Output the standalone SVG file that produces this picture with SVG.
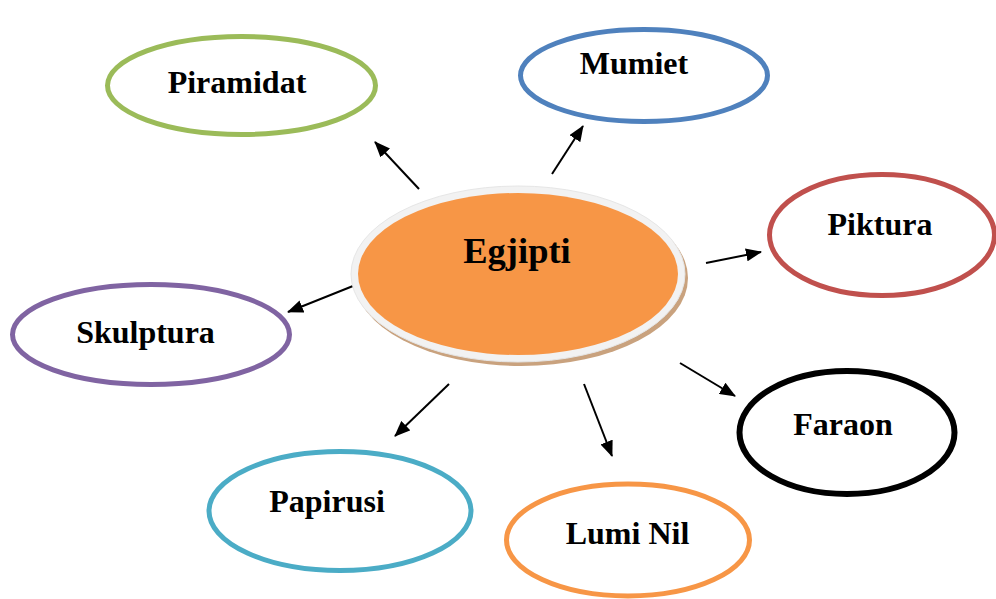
<svg xmlns="http://www.w3.org/2000/svg" width="996" height="599" viewBox="0 0 996 599">
<defs>
<style>
.node{fill:#ffffff;stroke-width:5}
.lbl{font-family:"Liberation Serif","Times New Roman",serif;font-weight:bold;font-size:32px;fill:#000;text-anchor:middle}
.conn{stroke:#000;stroke-width:2;fill:none;marker-end:url(#ah)}
</style>
<marker id="ah" markerUnits="userSpaceOnUse" markerWidth="16" markerHeight="13" refX="15" refY="6.5" orient="auto">
<path d="M0,0 L16,6.5 L0,13 Z" fill="#000"/>
</marker>
</defs>
<rect width="996" height="599" fill="#ffffff"/>
<g id="connectors">
<line class="conn" x1="419" y1="189" x2="375" y2="142"/>
<line class="conn" x1="552" y1="174" x2="583" y2="126"/>
<line class="conn" x1="353" y1="286" x2="288" y2="312"/>
<line class="conn" x1="449" y1="384" x2="395" y2="436"/>
<line class="conn" x1="706" y1="263" x2="761" y2="252"/>
<line class="conn" x1="680" y1="363" x2="735" y2="396"/>
<line class="conn" x1="584" y1="384" x2="612" y2="456"/>
</g>
<g id="egjipti">
<ellipse cx="521" cy="278" rx="167" ry="88" fill="#C9A27E"/>
<ellipse cx="518" cy="274" rx="167" ry="88" fill="#F2F2F2" stroke="#e6e6e6" stroke-width="1"/>
<ellipse cx="518" cy="274" rx="160" ry="81" fill="#F79646"/>
<text class="lbl" x="517" y="263" style="font-size:36.5px">Egjipti</text>
</g>
<g id="piramidat">
<ellipse class="node" cx="241.5" cy="85.5" rx="134" ry="49" stroke="#9BBB59"/>
<text class="lbl" x="237" y="93">Piramidat</text>
</g>
<g id="mumiet">
<ellipse class="node" cx="644" cy="75.5" rx="123.5" ry="46" stroke="#4F81BD"/>
<text class="lbl" x="634" y="74">Mumiet</text>
</g>
<g id="piktura">
<ellipse class="node" cx="882" cy="235" rx="112.5" ry="60.5" stroke="#C0504D"/>
<text class="lbl" x="880" y="235">Piktura</text>
</g>
<g id="skulptura">
<ellipse class="node" cx="151" cy="334.5" rx="138.5" ry="50" stroke="#8064A2"/>
<text class="lbl" x="145.5" y="343">Skulptura</text>
</g>
<g id="faraon">
<ellipse class="node" cx="847" cy="432.5" rx="107.5" ry="61.5" stroke="#000000" style="stroke-width:6"/>
<text class="lbl" x="843" y="435">Faraon</text>
</g>
<g id="papirusi">
<ellipse class="node" cx="340" cy="511" rx="131" ry="59.5" stroke="#4BACC6"/>
<text class="lbl" x="327" y="512">Papirusi</text>
</g>
<g id="lumi-nil">
<ellipse class="node" cx="628" cy="540" rx="121.5" ry="56" stroke="#F79646"/>
<text class="lbl" x="627.5" y="544">Lumi Nil</text>
</g>
</svg>
